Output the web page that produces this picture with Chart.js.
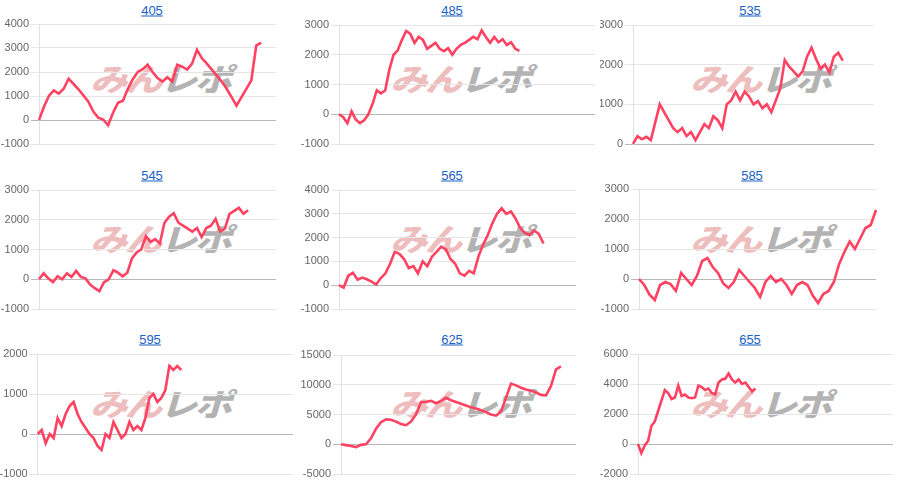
<!DOCTYPE html>
<html><head><meta charset="utf-8">
<script src="https://cdn.jsdelivr.net/npm/chart.js@4.4.1/dist/chart.umd.min.js"></script>
<style>
html,body{margin:0;padding:0;background:#fff;width:900px;height:495px;overflow:hidden;position:relative;font-family:"Liberation Sans",Arial,sans-serif;}
.t{position:absolute;font-size:13px;line-height:15px;color:#1a62c6;text-decoration:underline;transform:translate(-50%,-50%);white-space:nowrap;}
.wm{position:absolute;font-family:"Noto Sans CJK JP";font-weight:900;font-size:31px;line-height:31px;letter-spacing:-2px;white-space:nowrap;transform-origin:0 0;transform:scaleX(1.2) skewX(-14deg);}
.wm .a{color:rgba(214,96,96,0.42);}
.wm .b{color:rgba(150,150,150,0.72);}
canvas{position:absolute;}
</style></head><body>
<script>
// ---- data ----
const titles = ['405','485','535','545','565','585','595','625','655'];

const s405 = [0,550,1000,1230,1100,1300,1720,1500,1280,1020,760,350,100,20,-220,300,720,800,1300,1700,2000,2120,2300,2000,1750,1600,1780,1600,2300,2220,2100,2350,2920,2570,2350,2100,1850,1600,1300,950,600,950,1300,1650,3100,3220];
const s485 = [0,-100,-300,100,-180,-300,-200,0,350,800,700,800,1500,2000,2150,2500,2800,2700,2400,2600,2500,2200,2300,2400,2200,2120,2220,2000,2200,2330,2400,2500,2600,2520,2820,2600,2400,2600,2420,2520,2330,2420,2200,2130];
const s535 = [0,200,120,180,100,550,1000,800,600,400,300,400,200,300,100,300,500,400,700,600,400,1000,1100,1320,1100,1320,1200,1000,1080,900,1000,800,1100,1400,2120,1950,1830,1700,1830,2200,2430,2150,1900,2000,1800,2200,2300,2100];
const s545 = [0,200,30,-100,100,0,200,80,280,80,30,-180,-300,-400,-100,0,300,220,100,220,700,900,1000,1450,1250,1350,1200,1900,2100,2220,1900,1800,1700,1600,1720,1420,1720,1800,2030,1600,1700,2200,2300,2400,2200,2320];
const s565 = [0,-100,400,520,230,320,250,150,30,300,500,900,1400,1320,1100,720,800,500,1000,800,1200,1400,1620,1500,1100,900,500,400,600,500,1200,1700,2100,2600,3000,3230,3000,3100,2800,2400,2200,2100,2300,2150,1750];
const s585 = [0,-200,-520,-700,-200,-100,-170,-400,200,0,-200,100,600,700,400,200,-150,-300,-100,300,100,-100,-300,-600,-100,100,-100,0,-200,-500,-200,-100,-200,-550,-800,-500,-400,-100,500,900,1250,1000,1350,1700,1800,2300];
const s595 = [0,100,-230,0,-100,400,200,500,700,800,500,300,150,0,-100,-300,-400,0,-100,300,100,-100,0,300,100,200,100,400,900,1000,800,900,1100,1700,1600,1700,1600];
const s625 = [0,-150,-300,-500,-100,0,1000,2600,3700,4200,4100,3800,3400,3200,3800,5000,7100,7100,7300,6900,7300,7800,7400,7100,6800,6500,6200,6000,5700,5400,5000,4800,5500,7800,10200,9900,9500,9200,9000,8700,8300,8200,9800,12600,13100];
const s655 = [0,-600,-100,200,1200,1500,2200,2900,3600,3400,3000,3100,3900,3200,3300,3100,3050,3100,3900,3800,3600,3700,3400,3300,4100,4300,4350,4700,4300,4100,4300,4000,4100,3800,3500,3700];

const slots = [49, 62, 55, 52, 52, 46, 65, 48, 77];
const yMin  = [-1000,-1000,0,-1000,-1000,-1000,-1000,-5000,-2000];
const yMax  = [4000,3000,3000,3000,4000,3000,2000,15000,6000];
const yStep = [1000,1000,1000,1000,1000,1000,1000,5000,2000];
const series = [s405,s485,s535,s545,s565,s585,s595,s625,s655];

// ---- layout (plot rectangles: left, right, top, bottom) ----
const plots = [
  [39,276,24,144],[339,595,25,144],[633,874,25,144],
  [39,276,190,309],[339,576,190,309],[639,876,189,309],
  [37.7,293,354,474],[341,576,355,474],[638,893,354,474]
];
const titlePos = [[152,9.5],[452,9.5],[750,9.5],[152,175],[452,175],[752,175],[150,339],[452,339],[750,339]];
const rowTop = [0,0,0,160,160,160,325,325,325];

series.forEach((data, i) => {
  const cellLeft = (i % 3) * 300;
  const [pl, pr, pt, pb] = plots[i];

  const wm = document.createElement('div');
  wm.className = 'wm';
  wm.style.left = (cellLeft + 99) + 'px';
  wm.style.top = (rowTop[i] + 62) + 'px';
  wm.innerHTML = '<span class="a">みん</span><span class="b">レポ</span>';
  document.body.appendChild(wm);

  const t = document.createElement('a');
  t.className = 't';
  t.href = '#';
  t.textContent = titles[i];
  t.style.left = titlePos[i][0] + 'px';
  t.style.top = titlePos[i][1] + 'px';
  document.body.appendChild(t);

  const padT = 10, padB = 10, padR = 4;
  const cw = Math.round(pr - cellLeft + padR);
  const ch = Math.round(pb - pt + padT + padB);
  const c = document.createElement('canvas');
  c.width = cw; c.height = ch;
  c.style.left = cellLeft + 'px';
  c.style.top = (pt - padT) + 'px';
  c.style.width = cw + 'px'; c.style.height = ch + 'px';
  document.body.appendChild(c);

  const axisW = pl - cellLeft;
  const labels = Array.from({length: slots[i]}, (_, k) => String(k + 1));

  new Chart(c, {
    type: 'line',
    data: {
      labels,
      datasets: [{
        data,
        borderColor: 'rgb(255,66,98)',
        borderWidth: 2.6,
        pointRadius: 0,
        pointHoverRadius: 0,
        tension: 0,
        fill: false
      }]
    },
    options: {
      responsive: false,
      animation: false,
      events: [],
      layout: { padding: { left: 0, right: padR, top: padT, bottom: padB } },
      plugins: { legend: { display: false }, tooltip: { enabled: false }, title: { display: false } },
      scales: {
        x: { display: false },
        y: {
          min: yMin[i], max: yMax[i],
          afterFit: (s) => { s.width = axisW; },
          ticks: {
            stepSize: yStep[i], color: '#666', padding: 2,
            font: { family: 'Liberation Sans, Arial, sans-serif', size: 11 },
            callback: (v) => String(v)
          },
          grid: {
            color: (ctx) => (ctx.tick && ctx.tick.value === 0) ? '#b8b8b8' : '#e6e6e6',
            tickLength: 8,
            lineWidth: 1
          },
          border: { color: '#e0e0e0' }
        }
      }
    }
  });
});
</script>
</body></html>
